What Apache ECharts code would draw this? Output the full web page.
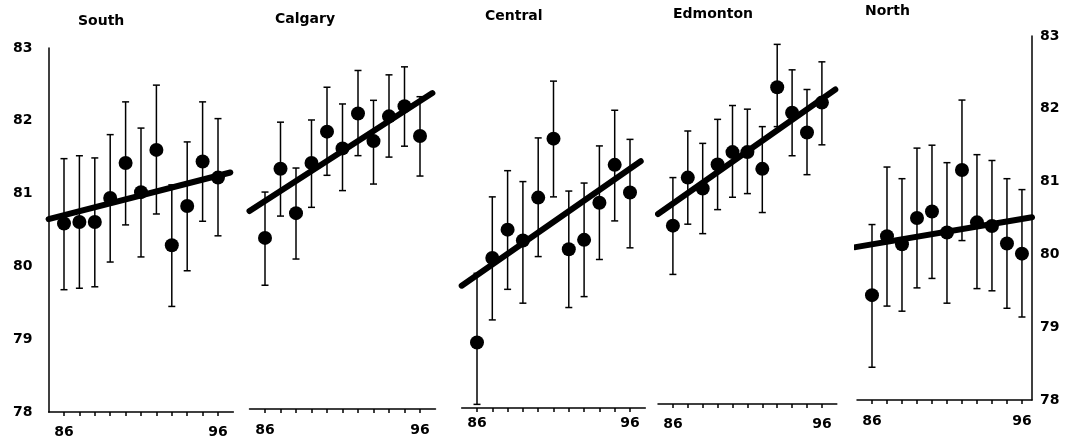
<!DOCTYPE html>
<html>
<head>
<meta charset="utf-8">
<script src="https://cdn.jsdelivr.net/npm/echarts@6/dist/echarts.min.js"></script>
<style>
html, body { margin: 0; padding: 0; background: #fff; }
#chart { width: 1065px; height: 444px; }
</style>
</head>
<body>
<div id="chart"></div>
<script>
// data (years 86..96)
var years = [86, 87, 88, 89, 90, 91, 92, 93, 94, 95, 96];
var xLabelYears = [86, 96];
var regions = ['South', 'Calgary', 'Central', 'Edmonton', 'North'];

var southMean = [80.59, 80.61, 80.61, 80.94, 81.42, 81.02, 81.60, 80.29, 80.83, 81.44, 81.22];
var southLow  = [79.68, 79.70, 79.72, 80.06, 80.57, 80.13, 80.72, 79.45, 79.94, 80.62, 80.42];
var southHigh = [81.48, 81.52, 81.49, 81.81, 82.26, 81.90, 82.49, 81.12, 81.71, 82.26, 82.03];

var calgaryMean = [80.35, 81.30, 80.69, 81.38, 81.81, 81.58, 82.06, 81.68, 82.02, 82.16, 81.75];
var calgaryLow  = [79.70, 80.65, 80.06, 80.77, 81.21, 81.00, 81.48, 81.09, 81.46, 81.61, 81.20];
var calgaryHigh = [80.98, 81.94, 81.31, 81.97, 82.42, 82.19, 82.65, 82.24, 82.59, 82.70, 82.29];

var centralMean = [78.90, 80.06, 80.45, 80.30, 80.89, 81.70, 80.18, 80.31, 80.82, 81.34, 80.96];
var centralLow  = [78.05, 79.21, 79.63, 79.44, 80.08, 80.90, 79.38, 79.53, 80.04, 80.57, 80.20];
var centralHigh = [79.85, 80.90, 81.26, 81.11, 81.71, 82.49, 80.98, 81.09, 81.60, 82.09, 81.69];

var edmontonMean = [80.45, 81.11, 80.96, 81.29, 81.46, 81.46, 81.23, 82.35, 82.00, 81.73, 82.14];
var edmontonLow  = [79.78, 80.47, 80.34, 80.67, 80.84, 80.89, 80.63, 81.81, 81.41, 81.15, 81.56];
var edmontonHigh = [81.11, 81.75, 81.58, 81.91, 82.10, 82.05, 81.81, 82.94, 82.59, 82.32, 82.70];

var northMean = [79.44, 80.25, 80.14, 80.50, 80.59, 80.30, 81.16, 80.44, 80.39, 80.15, 80.01];
var northLow  = [78.45, 79.29, 79.22, 79.54, 79.67, 79.33, 80.19, 79.53, 79.50, 79.26, 79.14];
var northHigh = [80.41, 81.20, 81.04, 81.46, 81.50, 81.26, 82.12, 81.37, 81.29, 81.04, 80.89];

// fitted trend: start/end year and value for each region
var trendFrom  = [85, 85, 85, 85, 84.9];
var trendTo    = [96.8, 96.8, 96.7, 96.9, 96.67];
var trendStart = [80.65, 80.72, 79.68, 80.61, 80.10];
var trendEnd   = [81.29, 82.34, 81.39, 82.32, 80.51];

var means = [southMean, calgaryMean, centralMean, edmontonMean, northMean];
var lows  = [southLow, calgaryLow, centralLow, edmontonLow, northLow];
var highs = [southHigh, calgaryHigh, centralHigh, edmontonHigh, northHigh];

// panel placement (the scan is a bit skewed, so each panel sits a little higher)
var panels = [
    { left: 48.6, top: 48, width: 184.8, height: 364, xMax: 97,    margin: 13, tx: 78,  ty: 22 },
    { left: 249.5, top: 45, width: 186,  height: 364, xMax: 97,    margin: 14, tx: 275, ty: 20 },
    { left: 461.7, top: 44, width: 183.6, height: 364, xMax: 97,   margin: 8,  tx: 485, ty: 17 },
    { left: 658, top: 40, width: 178.8, height: 364, xMax: 97,     margin: 13, tx: 673, ty: 15 },
    { left: 857, top: 36, width: 175,  height: 364, xMax: 96.67,   margin: 14, tx: 865, ty: 12 }
];

var FONT = 'DejaVu Sans';

function errorBar(params, api) {
    var x = api.value(0);
    var lo = api.coord([x, api.value(1)]);
    var hi = api.coord([x, api.value(2)]);
    var w = 3.5;
    var st = { stroke: '#000', lineWidth: 1.5 };
    return {
        type: 'group',
        children: [
            { type: 'line', shape: { x1: lo[0], y1: lo[1], x2: hi[0], y2: hi[1] }, style: st },
            { type: 'line', shape: { x1: lo[0] - w, y1: lo[1], x2: lo[0] + w, y2: lo[1] }, style: st },
            { type: 'line', shape: { x1: hi[0] - w, y1: hi[1], x2: hi[0] + w, y2: hi[1] }, style: st }
        ]
    };
}

var grids = [], xAxes = [], yAxes = [], series = [], texts = [];

for (var i = 0; i < regions.length; i++) {
    var p = panels[i];
    grids.push({ left: p.left, top: p.top, width: p.width, height: p.height, containLabel: false, outerBoundsMode: 'none' });

    xAxes.push({
        gridIndex: i, type: 'value', min: 85, max: p.xMax,
        splitLine: { show: false },
        axisLine: { onZero: false, lineStyle: { color: '#000', width: 1.5 } },
        axisTick: { customValues: years, length: 4, lineStyle: { color: '#000', width: 1.5 } },
        axisLabel: { customValues: xLabelYears, margin: p.margin, color: '#000', fontFamily: FONT, fontWeight: 'bold', fontSize: 14 }
    });

    var yShow = (i === 0 || i === regions.length - 1);
    yAxes.push({
        gridIndex: i, type: 'value', min: 78, max: 83, interval: 1,
        show: yShow,
        position: i === 0 ? 'left' : 'right',
        splitLine: { show: false },
        axisLine: { show: true, lineStyle: { color: '#000', width: 1.5 } },
        axisTick: { show: false },
        axisLabel: { margin: i === 0 ? 16 : 8, color: '#000', fontFamily: FONT, fontWeight: 'bold', fontSize: 14 }
    });

    var bars = [], dots = [];
    for (var k = 0; k < years.length; k++) {
        bars.push([years[k], lows[i][k], highs[i][k]]);
        dots.push([years[k], means[i][k]]);
    }

    series.push({
        type: 'line', xAxisIndex: i, yAxisIndex: i, clip: false,
        data: [[trendFrom[i], trendStart[i]], [trendTo[i], trendEnd[i]]],
        symbol: 'none',
        lineStyle: { color: '#000', width: 6, cap: 'round' },
        z: 2
    });
    series.push({
        type: 'custom', xAxisIndex: i, yAxisIndex: i,
        renderItem: errorBar,
        encode: { x: 0, y: [1, 2] },
        data: bars,
        z: 3
    });
    series.push({
        type: 'scatter', xAxisIndex: i, yAxisIndex: i,
        data: dots, symbol: 'circle', symbolSize: 14,
        itemStyle: { color: '#000', opacity: 1 },
        z: 4
    });

    texts.push({
        type: 'text', left: p.tx, top: p.ty - 8,
        style: { text: regions[i], fill: '#000', font: 'bold 14px "' + FONT + '"' }
    });
}

var option = {
    animation: false,
    backgroundColor: '#fff',
    grid: grids,
    xAxis: xAxes,
    yAxis: yAxes,
    series: series,
    graphic: texts
};

var myChart = echarts.init(document.getElementById('chart'));
myChart.setOption(option);
</script>
</body>
</html>
